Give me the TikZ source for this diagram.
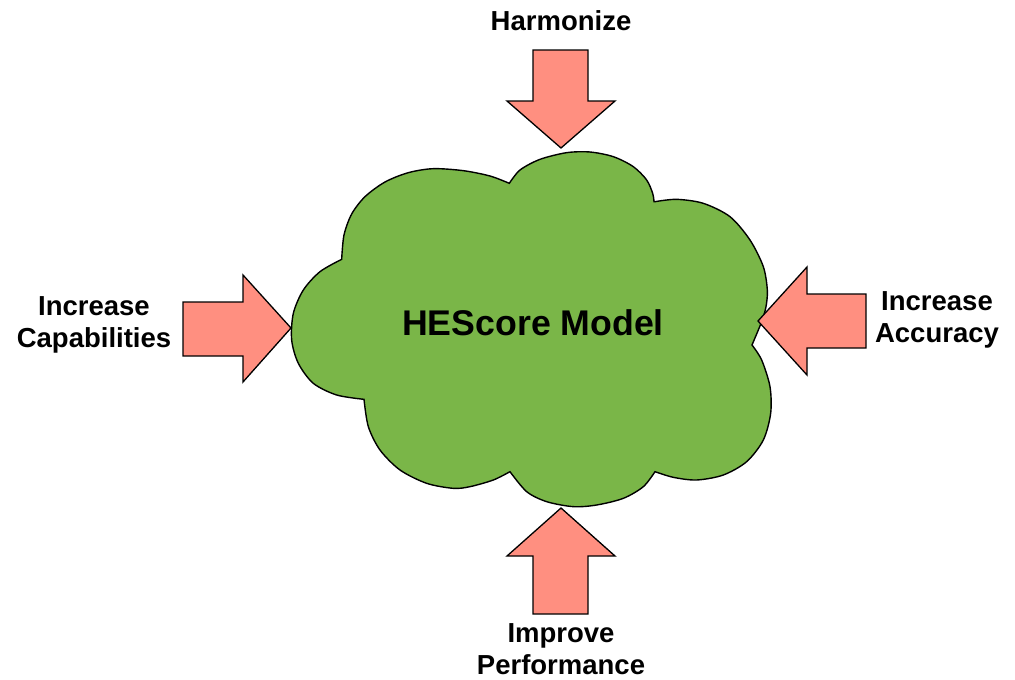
\documentclass[tikz,border=0pt]{standalone}
\usepackage{fontspec}
\setmainfont{Liberation Sans}
\definecolor{cloudgreen}{HTML}{7AB648}
\definecolor{arrowred}{HTML}{FF8F80}
\begin{document}
\begin{tikzpicture}[x=1pt,y=-1pt,
  blockarrow/.style={draw=black,fill=arrowred,line width=1.3pt,line join=miter},
  cloudshape/.style={draw=black,fill=cloudgreen,line width=1.4pt},
  lbl/.style={font=\fontsize{27.5}{32}\selectfont\bfseries,align=center,inner sep=0pt},
  title/.style={font=\fontsize{35.7}{40}\selectfont\bfseries,inner sep=0pt}]
\useasboundingbox (0,0) rectangle (1015,680);
% cloud
\begin{scope}[shift={(280,140)},scale=1/3]
\draw[cloudshape]
  plot[smooth] coordinates {(185,358) (192,285) (215,222) (255,170) (315,126) (385,98) (460,86) (550,92) (630,108) (688,130)}
  -- plot[smooth] coordinates {(688,130) (720,90) (780,58) (860,38) (930,36) (1000,50) (1060,80) (1100,120) (1118,160) (1122,185)}
  -- plot[smooth] coordinates {(1125,185) (1190,178) (1270,190) (1350,230) (1410,300) (1450,380) (1462,450) (1458,500) (1445,545) (1416,615)}
  -- plot[smooth] coordinates {(1416,615) (1445,660) (1470,740) (1472,820) (1450,900) (1400,965) (1330,1005) (1250,1020) (1180,1012) (1125,995)}
  -- plot[smooth] coordinates {(1125,995) (1090,1040) (1030,1075) (950,1095) (880,1100) (800,1085) (740,1055) (690,995)}
  -- plot[smooth] coordinates {(690,995) (640,1020) (570,1040) (520,1045) (440,1030) (360,990) (300,930) (265,860) (252,778)}
  -- plot[smooth] coordinates {(252,778) (170,765) (100,730) (55,670) (35,600) (40,520) (70,450) (120,395) (185,358)}
  -- cycle;
\end{scope}
\node[title] (model) at (533,323) {HEScore Model};
% arrows
\draw[blockarrow] (183,302) -- (243,302) -- (243,275) -- (291,328) -- (243,382) -- (243,356) -- (183,356) -- cycle;
\draw[blockarrow] (758,321) -- (807,267) -- (807,294) -- (866,294) -- (866,348) -- (807,348) -- (807,375) -- cycle;
\draw[blockarrow] (533,50) -- (588,50) -- (588,101) -- (615,101) -- (561,148) -- (507,101) -- (533,101) -- cycle;
\draw[blockarrow] (561,508) -- (615,556) -- (588,556) -- (588,614) -- (533,614) -- (533,556) -- (507,556) -- cycle;
% labels
\node[lbl,anchor=base] (harm) at (561,30) {Harmonize};
\node[lbl,anchor=north] (cap) at (94,296) {Increase\\Capabilities};
\node[lbl,anchor=north] (acc) at (937,291) {Increase\\Accuracy};
\node[lbl,anchor=north] (perf) at (561,623) {Improve\\Performance};
\end{tikzpicture}
\end{document}
